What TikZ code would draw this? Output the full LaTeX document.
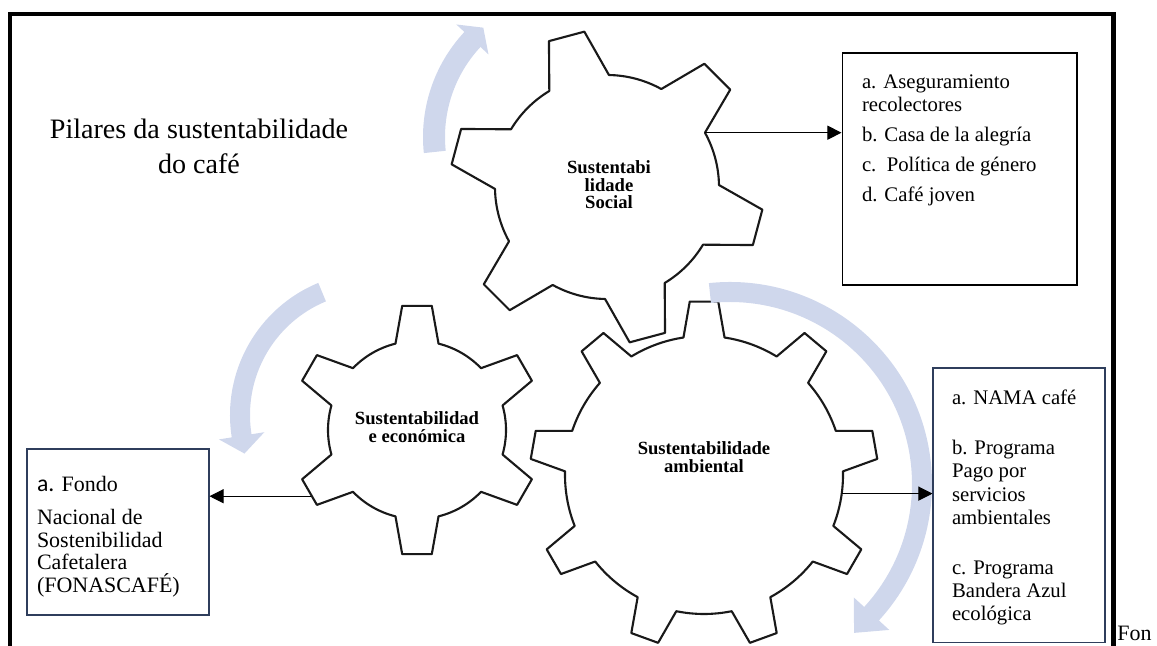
\documentclass[tikz,border=0pt]{standalone}
\usepackage{fontspec}
\setmainfont{Liberation Serif}
\newfontfamily\calibrifont{Carlito}
\usetikzlibrary{arrows.meta,calc}

\definecolor{seta}{RGB}{207,215,236}
\definecolor{moldura}{RGB}{47,62,92}

\newcommand{\engrenagem}[7]{%
  \begin{scope}[shift={(#1)}]
    \draw[dente] ({#5-#6}:#3)
      \foreach \k in {1,...,#2}{
        -- ({#5+(\k-1)*360/#2-#7}:#4) -- ({#5+(\k-1)*360/#2+#7}:#4)
        -- ({#5+(\k-1)*360/#2+#6}:#3)
        arc[start angle={#5+(\k-1)*360/#2+#6}, end angle={#5+\k*360/#2-#6}, radius=#3]
      } -- cycle;
  \end{scope}}

\begin{document}
\begin{tikzpicture}[x=0.02cm,y=0.02cm,
  dente/.style={line width=1.2pt,draw=black!90,line join=round},
  rotulo/.style={font=\fontsize{10.6}{10}\selectfont\bfseries,align=center,inner sep=0pt},
  caixa/.style={draw,line width=0.6pt,inner xsep=0.4cm,inner ysep=0.3cm,font=\fontsize{11.8}{13}\selectfont},
  ligacao/.style={line width=0.6pt,-{Triangle[length=8pt,width=8pt]}}]

\useasboundingbox (0,0) rectangle (1157,646);

\draw[line width=2.3pt] (10,-10) -- (10,632) -- (1113.5,632) -- (1113.5,-10);

\coordinate (socc) at (607,459);
\coordinate (ecoc) at (417,216);
\coordinate (ambc) at (704,171);

\engrenagem{socc}{6}{112}{157}{45}{16}{6.7}
\engrenagem{ecoc}{6}{89}{125}{30}{14}{6.8}
\engrenagem{ambc}{9}{139}{174}{10}{8.5}{4.7}

\draw (609,461) node(soc)[rotulo] {Sustentabi\\lidade\\Social};
\draw (417,219) node(eco)[rotulo] {Sustentabilidad\\e económica};
\draw (704,189) node(amb)[rotulo] {Sustentabilidade\\ambiental};

\begin{scope}[shift={(577,509)}]
\fill[seta] (186:154) arc[start angle=186,end angle=137,radius=154]
  -- (137:165) -- (130.6:144) -- (137:121) -- (137:132)
  arc[start angle=137,end angle=186,radius=132] -- cycle;
\end{scope}
\begin{scope}[shift={(373,231)}]
\fill[seta] (112.5:143) arc[start angle=112.5,end angle=189,radius=143]
  -- (189:156) -- (196.7:134.2) -- (189:110) -- (189:123)
  arc[start angle=189,end angle=112.5,radius=123] -- cycle;
\end{scope}
\begin{scope}[shift={(730,162)}]
\fill[seta] (96:202) arc[start angle=96,end angle=-42.5,radius=202]
  -- (-42.5:216) -- (-50.2:193.8) -- (-42.5:168) -- (-42.5:182)
  arc[start angle=-42.5,end angle=96,radius=182] -- cycle;
\end{scope}

\draw (199,500) node(titulo)[font=\fontsize{16}{19.8}\selectfont,align=center,inner sep=0pt]
  {Pilares da sustentabilidade\\do café};

\draw (959.5,477) node(socbox)[caixa] {\parbox[c][4.04cm][t]{3.9cm}{\raggedright\vspace*{4pt}
  a. Aseguramiento\\recolectores\\[4pt]b. Casa de la alegría\\[4pt]c.\ \ Política de género\\[4pt]d. Café joven}};
\draw (1019,140.5) node(ambbox)[caixa,draw=moldura,inner xsep=0.38cm,font=\fontsize{11.8}{13.3}\selectfont]
  {\parbox[c][4.9cm][t]{2.68cm}{\raggedright\vspace*{4pt}
  a. NAMA café\\[15pt]b. Programa\\Pago por\\servicios\\ambientales\\[15pt]c. Programa\\Bandera Azul\\ecológica}};
\draw (118,114) node(ecobox)[caixa,draw=moldura,inner xsep=0.2cm,inner ysep=0.44cm,font=\fontsize{12.5}{12.8}\selectfont]
  {\parbox[c][2.44cm][t]{3.24cm}{\raggedright\vspace*{3pt}
  {\calibrifont\fontsize{13.5}{12.8}\selectfont a.} Fondo\\[6pt]Nacional de\\Sostenibilidad\\Cafetalera\\(FONASCAFÉ)}};

\coordinate (socout) at ($(socc)+(29:112)$);
\coordinate (ambout) at ($(ambc)+(-7.7:139)$);
\coordinate (ecoout) at ($(ecoc)+(212:125)$);
\draw[ligacao] (socout) -- (socout -| socbox.west);
\draw[ligacao] (ambout) -- (ambout -| ambbox.west);
\draw[ligacao] (ecoout) -- (ecoout -| ecobox.east);

\draw (1117,5) node(fonte)[anchor=base west,inner sep=0pt,font=\fontsize{12.5}{13}\selectfont] {Fon};
\end{tikzpicture}
\end{document}
